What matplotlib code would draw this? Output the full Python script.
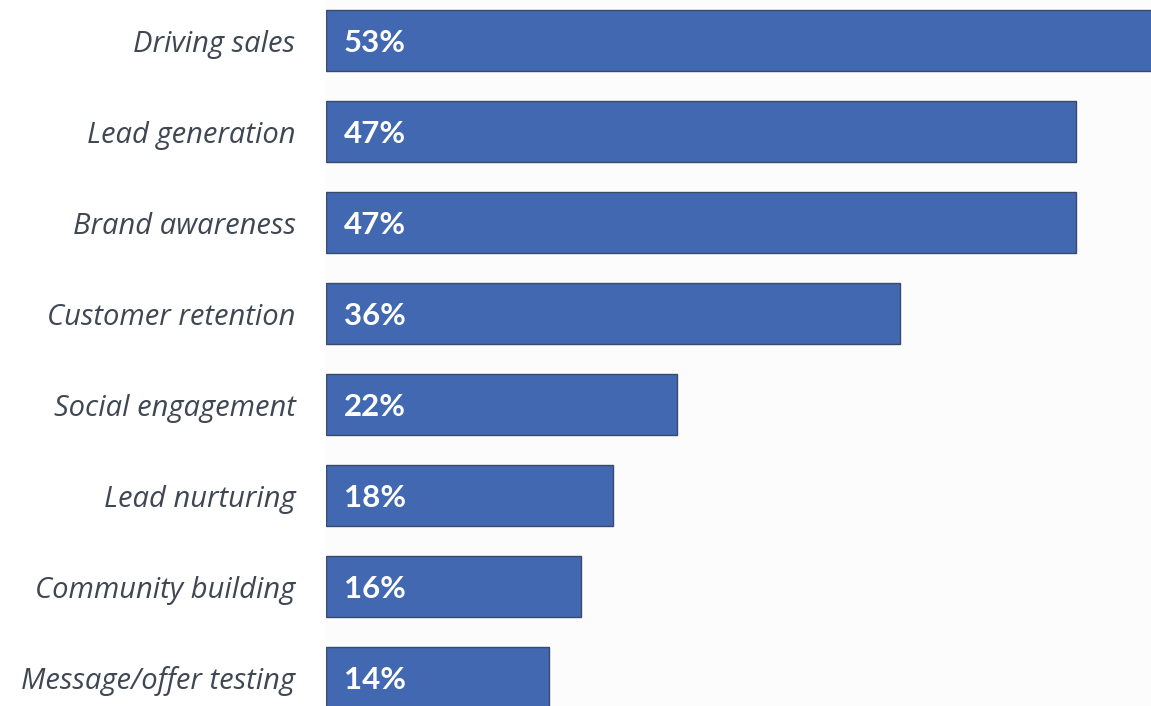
import matplotlib
matplotlib.use("Agg")
import matplotlib.pyplot as plt

categories = [
    "Driving sales",
    "Lead generation",
    "Brand awareness",
    "Customer retention",
    "Social engagement",
    "Lead nurturing",
    "Community building",
    "Message/offer testing",
]
shares = [53, 47, 47, 36, 22, 18, 16, 14]
value_labels = [f"{v}%" for v in shares]

BAR_COLOR = "#4168b0"
EDGE_COLOR = "#3b4a6b"
LABEL_COLOR = "#3f4753"

fig = plt.figure(figsize=(11.51, 7.06), dpi=100)
fig.patch.set_facecolor("white")
ax = fig.add_axes([326 / 1151, 0.0, 1 - 326 / 1151, 1.0])
ax.set_facecolor("#fcfcfc")

ypos = list(range(len(categories)))
ax.barh(ypos, shares, height=0.67, color=BAR_COLOR,
        edgecolor=EDGE_COLOR, linewidth=1.0, zorder=2)

ax.set_xlim(0, 825 / 15.95)
ax.set_ylim(7.31, -0.445)

for y, lab in zip(ypos, value_labels):
    ax.annotate(lab, xy=(0, y), xytext=(13, -1.5), textcoords="offset points",
                ha="left", va="center", color="white", fontsize=22.5,
                fontweight="bold", family="Lato", zorder=3)

ax.set_yticks(ypos)
ax.set_yticklabels(categories, fontsize=21, style="italic", family="Open Sans",
                   color=LABEL_COLOR)
ax.tick_params(axis="y", length=0, pad=22)
ax.set_xticks([])
for s in ax.spines.values():
    s.set_visible(False)

fig.savefig("out.png", dpi=100)
